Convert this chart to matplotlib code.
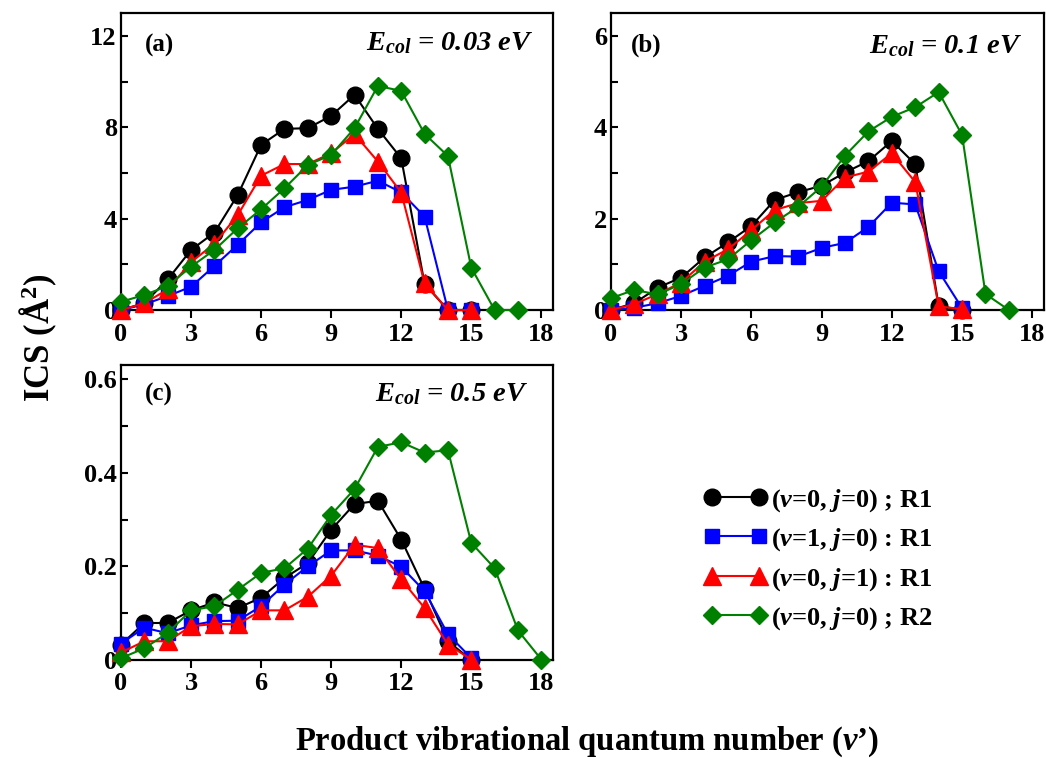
import matplotlib
matplotlib.use("Agg")
import matplotlib.pyplot as plt
from matplotlib.ticker import MultipleLocator, FuncFormatter

plt.rcParams['font.family'] = ['Liberation Serif', 'DejaVu Serif']
plt.rcParams['font.weight'] = 'bold'
plt.rcParams['mathtext.fontset'] = 'custom'
plt.rcParams['mathtext.rm'] = 'Liberation Serif:bold'
plt.rcParams['mathtext.bf'] = 'Liberation Serif:bold'
plt.rcParams['mathtext.it'] = 'Liberation Serif:italic:bold'

# ---------------- data ----------------
v_a_r1 = list(range(16))
v_a_r2 = list(range(18))
a_v0j0_R1 = [0, 0.3, 1.34, 2.63, 3.39, 5.04, 7.23, 7.93, 7.96, 8.5, 9.42, 7.93, 6.64, 1.14, 0, 0]
a_v1j0_R1 = [0, 0.25, 0.61, 1.02, 1.93, 2.86, 3.84, 4.5, 4.82, 5.26, 5.4, 5.66, 5.15, 4.09, 0, 0]
a_v0j1_R1 = [0, 0.3, 0.9, 2.1, 2.9, 4.16, 5.88, 6.39, 6.39, 6.86, 7.7, 6.5, 5.14, 1.17, 0, 0]
a_v0j0_R2 = [0.36, 0.66, 1.05, 1.9, 2.63, 3.58, 4.41, 5.33, 6.35, 6.79, 7.96, 9.81, 9.59, 7.71, 6.74, 1.85, 0, 0]

v_b_r1 = list(range(16))
v_b_r2 = list(range(18))
b_v0j0_R1 = [0, 0.15, 0.49, 0.71, 1.15, 1.48, 1.84, 2.41, 2.58, 2.72, 3.01, 3.26, 3.70, 3.19, 0.09, 0]
b_v1j0_R1 = [0, 0.05, 0.15, 0.31, 0.53, 0.75, 1.06, 1.18, 1.17, 1.36, 1.47, 1.82, 2.35, 2.31, 0.85, 0.04]
b_v0j1_R1 = [0, 0.13, 0.35, 0.6, 1.06, 1.33, 1.75, 2.19, 2.34, 2.39, 2.9, 3.03, 3.43, 2.8, 0.08, 0.02]
b_v0j0_R2 = [0.26, 0.44, 0.34, 0.57, 0.93, 1.11, 1.53, 1.92, 2.26, 2.7, 3.38, 3.91, 4.23, 4.44, 4.77, 3.83, 0.35, 0]

v_c_r1 = list(range(16))
v_c_r2 = list(range(19))
c_v0j0_R1 = [0.033, 0.079, 0.079, 0.106, 0.123, 0.111, 0.133, 0.175, 0.207, 0.278, 0.333, 0.34, 0.257, 0.152, 0.04, 0]
c_v1j0_R1 = [0.035, 0.069, 0.057, 0.074, 0.083, 0.084, 0.115, 0.161, 0.2, 0.234, 0.234, 0.223, 0.199, 0.147, 0.055, 0.004]
c_v0j1_R1 = [0.016, 0.04, 0.04, 0.072, 0.077, 0.076, 0.106, 0.106, 0.135, 0.18, 0.246, 0.239, 0.172, 0.111, 0.033, 0.001]
c_v0j0_R2 = [0.004, 0.025, 0.058, 0.106, 0.115, 0.15, 0.186, 0.196, 0.238, 0.31, 0.365, 0.455, 0.465, 0.443, 0.448, 0.25, 0.196, 0.063, 0.001]

panel_labels = ['(a)', '(b)', '(c)']
energy_labels = ['0.03', '0.1', '0.5']
legend_labels = [r'($\mathit{v}$=0, $\mathit{j}$=0) ; R1',
                 r'($\mathit{v}$=1, $\mathit{j}$=0) : R1',
                 r'($\mathit{v}$=0, $\mathit{j}$=1) : R1',
                 r'($\mathit{v}$=0, $\mathit{j}$=0) ; R2']
x_ticks = [0, 3, 6, 9, 12, 15, 18]

styles = [dict(color='black', marker='o', ms=12),
          dict(color='blue', marker='s', ms=10.5),
          dict(color='red', marker='^', ms=12.5),
          dict(color='green', marker='D', ms=9.5)]

panels = [
    dict(pos=[0.1157, 0.5910, 0.4130, 0.3918], ylim=13, major=4, minor=2,
         series=[(v_a_r1, a_v0j0_R1), (v_a_r1, a_v1j0_R1), (v_a_r1, a_v0j1_R1), (v_a_r2, a_v0j0_R2)],
         lab_xy=(0.055, 0.89), e_xy=(0.955, 0.90)),
    dict(pos=[0.5841, 0.5910, 0.4140, 0.3918], ylim=6.5, major=2, minor=1,
         series=[(v_b_r1, b_v0j0_R1), (v_b_r1, b_v1j0_R1), (v_b_r1, b_v0j1_R1), (v_b_r2, b_v0j0_R2)],
         lab_xy=(0.045, 0.89), e_xy=(0.95, 0.89)),
    dict(pos=[0.1157, 0.1293, 0.4130, 0.3892], ylim=0.63, major=0.2, minor=0.1,
         series=[(v_c_r1, c_v0j0_R1), (v_c_r1, c_v1j0_R1), (v_c_r1, c_v0j1_R1), (v_c_r2, c_v0j0_R2)],
         lab_xy=(0.055, 0.90), e_xy=(0.943, 0.90)),
]

fig = plt.figure(figsize=(10.46, 7.58), dpi=100)

def fmt(v, pos):
    if abs(v) < 1e-9:
        return '0'
    return ('%.1f' % v) if abs(v) < 1 else ('%g' % v)

handles = []
for i, p in enumerate(panels):
    ax = fig.add_axes(p['pos'])
    for (xs, ys), st in zip(p['series'], styles):
        ln, = ax.plot(xs, ys, color=st['color'], marker=st['marker'], ms=st['ms'],
                      mec=st['color'], mfc=st['color'], lw=1.5, clip_on=False, zorder=3)
        if i == 0:
            handles.append(ln)
    ax.set_xlim(0, 18.5)
    ax.set_ylim(0, p['ylim'])
    ax.set_xticks(x_ticks)
    ax.yaxis.set_major_locator(MultipleLocator(p['major']))
    ax.yaxis.set_minor_locator(MultipleLocator(p['minor']))
    ax.yaxis.set_major_formatter(FuncFormatter(fmt))
    ax.tick_params(axis='x', direction='out', length=6, width=1.5, labelsize=19, pad=3)
    ax.tick_params(axis='y', which='both', direction='in', length=5, width=1.5, labelsize=19, pad=3)
    for lab in ax.get_xticklabels() + ax.get_yticklabels():
        lab.set_fontweight('bold')
    for sp in ax.spines.values():
        sp.set_linewidth(1.6)
    ax.text(p['lab_xy'][0], p['lab_xy'][1], panel_labels[i], transform=ax.transAxes,
            fontsize=18, fontweight='bold', ha='left', va='center')
    ax.text(p['e_xy'][0], p['e_xy'][1], r'$\mathit{E}_{\mathit{col}}$ = ' + energy_labels[i] + ' eV',
            transform=ax.transAxes, fontsize=20.5, fontweight='bold', fontstyle='italic',
            ha='right', va='center')

fig.legend(handles, legend_labels, loc='center left', bbox_to_anchor=(0.650, 0.262),
           frameon=False, numpoints=2, handlelength=2.4, handletextpad=0.15,
           labelspacing=0.48, prop=dict(family='Liberation Serif', weight='bold', size=19))

fig.text(0.037, 0.555, r'ICS (Å$^{2}$)', rotation=90, fontsize=25, fontweight='bold',
         ha='center', va='center')
fig.text(0.561, 0.021, r"Product vibrational quantum number ($\mathit{v}$’)", fontsize=23.5,
         fontweight='bold', ha='center', va='center')

fig.savefig('out.png', dpi=100)
